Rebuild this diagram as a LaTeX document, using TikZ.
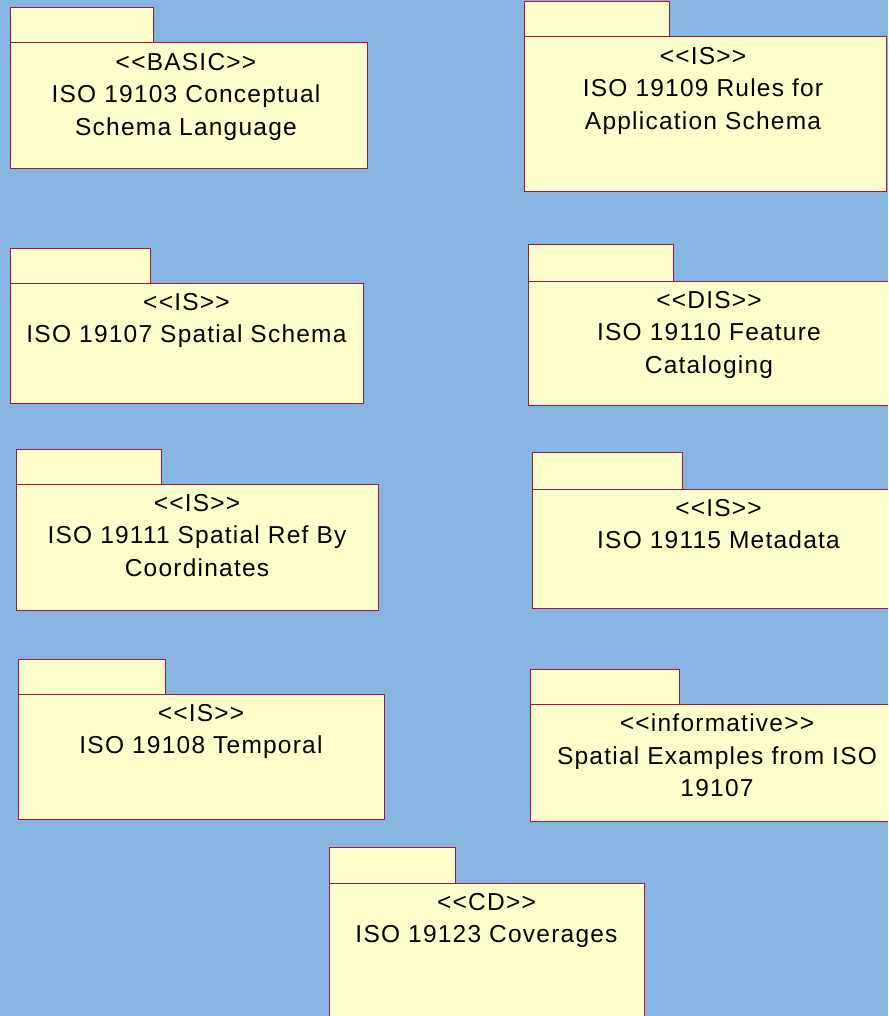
\documentclass[tikz,border=0pt]{standalone}
\usepackage{fontspec}
\setmainfont{Liberation Sans}
\usepackage{tikz}
\usepackage{xcolor}

\definecolor{pkgback}{RGB}{133,181,224}
\definecolor{pkgfill}{RGB}{255,255,204}
\definecolor{pkgline}{RGB}{170,20,60}
\newcommand{\pkgfont}{\fontsize{24.5}{32.5}\selectfont\addfontfeatures{LetterSpace=5}}

\begin{document}
\begin{tikzpicture}[x=1pt, y=-1pt,
  pkg/.style={fill=pkgfill, draw=pkgline, line width=1pt},
  pkgtext/.style={anchor=north, align=center, inner sep=0pt, font=\pkgfont}]
\fill[pkgback] (0,0) rectangle (888,1016);
\clip (0,0) rectangle (888,1016);

\filldraw[pkg] (10,8) rectangle (153,43);
\filldraw[pkg] (10,43) rectangle (367,169);
\node[pkgtext] (basic) at (186,53) {<{}<BASIC>{}>\\ISO 19103 Conceptual\\Schema Language};

\filldraw[pkg] (524,2) rectangle (669,37);
\filldraw[pkg] (524,37) rectangle (886,192);
\node[pkgtext] (rules) at (703,47) {<{}<IS>{}>\\ISO 19109 Rules for\\Application Schema};

\filldraw[pkg] (10,248) rectangle (150,283);
\filldraw[pkg] (10,283) rectangle (363,403);
\node[pkgtext] (spatial) at (186.5,293) {<{}<IS>{}>\\ISO 19107 Spatial Schema};

\filldraw[pkg] (528,244) rectangle (673,281);
\filldraw[pkg] (528,281) rectangle (890,405);
\node[pkgtext] (feature) at (709,291) {<{}<DIS>{}>\\ISO 19110 Feature\\Cataloging};

\filldraw[pkg] (16,449) rectangle (161,484);
\filldraw[pkg] (16,484) rectangle (378,610);
\node[pkgtext] (spatialref) at (197,494) {<{}<IS>{}>\\ISO 19111 Spatial Ref By\\Coordinates};

\filldraw[pkg] (532,452) rectangle (682,489);
\filldraw[pkg] (532,489) rectangle (905,608);
\node[pkgtext] (metadata) at (718.5,499) {<{}<IS>{}>\\ISO 19115 Metadata};

\filldraw[pkg] (18,659) rectangle (165,694);
\filldraw[pkg] (18,694) rectangle (384,819);
\node[pkgtext] (temporal) at (201,704) {<{}<IS>{}>\\ISO 19108 Temporal};

\filldraw[pkg] (530,669) rectangle (679,704);
\filldraw[pkg] (530,704) rectangle (904,821);
\node[pkgtext] (examples) at (717,714) {<{}<informative>{}>\\Spatial Examples from ISO\\19107};

\filldraw[pkg] (329,847) rectangle (455,883);
\filldraw[pkg] (329,883) rectangle (644,1030);
\node[pkgtext] (coverages) at (486.5,893) {<{}<CD>{}>\\ISO 19123 Coverages};
\end{tikzpicture}
\end{document}
